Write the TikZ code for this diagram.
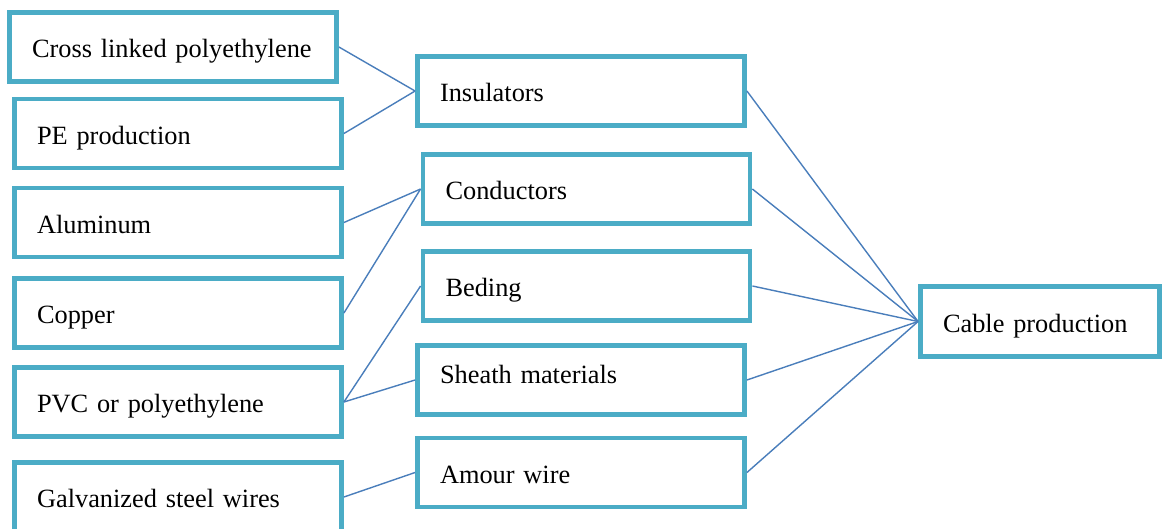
\documentclass[tikz,border=0pt]{standalone}
\usepackage{fontspec}
\setmainfont{Liberation Serif}
\usepackage{xcolor}
\usepackage{tikz}
\usetikzlibrary{positioning}
\definecolor{boxline} {HTML}{4BACC6}
\definecolor{wire}    {HTML}{4A7EBB}
\definecolor{ink}     {HTML}{000000}
\tikzset{
  item/.style  = {draw=boxline, line width=2.8pt, fill=white, text=ink,
                  minimum width=6.54cm, minimum height=1.38cm,
                  text width=5.64cm, align=left, inner xsep=0.45cm,
                  text height=1.5em, text depth=0.3em,
                  font=\fontsize{15pt}{18pt}\selectfont},
  goal/.style  = {item, minimum width=4.78cm, minimum height=1.4cm,
                  text width=3.88cm},
  link/.style  = {draw=wire, line width=0.8pt},
}

\begin{document}
\begin{tikzpicture}[x=0.02cm, y=-0.02cm]
  \clip (0,0) rectangle (1164,528);

  % raw materials
  \node[item] (xlpe)  at (173,47)    {Cross linked polyethylene};
  \node[item] (pe)    at (178,133.5) {PE production};
  \node[item] (alu)   at (178,222.5) {Aluminum};
  \node[item] (cu)    at (178,313)   {Copper};
  \node[item] (pvc)   at (178,402)   {PVC or polyethylene};
  \node[item] (steel) at (178,497)   {Galvanized steel wires};

  % components
  \node[item] (ins)   at (581,91)    {Insulators};
  \node[item] (cond)  at (586.5,189) {Conductors};
  \node[item] (bed)   at (586.5,286) {Beding};
  \node[item, text height=0.95em, text depth=0.6em] (sheath) at (581,380) {Sheath materials};
  \node[item] (amour) at (581,472.5) {Amour wire};

  % product
  \node[goal] (cable) at (1040,321.5) {Cable production};

  % links
  \draw[link] (xlpe.east)  -- (ins.west);
  \draw[link] (pe.east)    -- (ins.west);
  \draw[link] (alu.east)   -- (cond.west);
  \draw[link] (cu.east)    -- (cond.west);
  \draw[link] (pvc.east)   -- (bed.west);
  \draw[link] (pvc.east)   -- (sheath.west);
  \draw[link] (steel.east) -- (amour.west);
  \foreach \part in {ins,cond,bed,sheath,amour}
    \draw[link] (\part.east) -- (cable.west);
\end{tikzpicture}
\end{document}
